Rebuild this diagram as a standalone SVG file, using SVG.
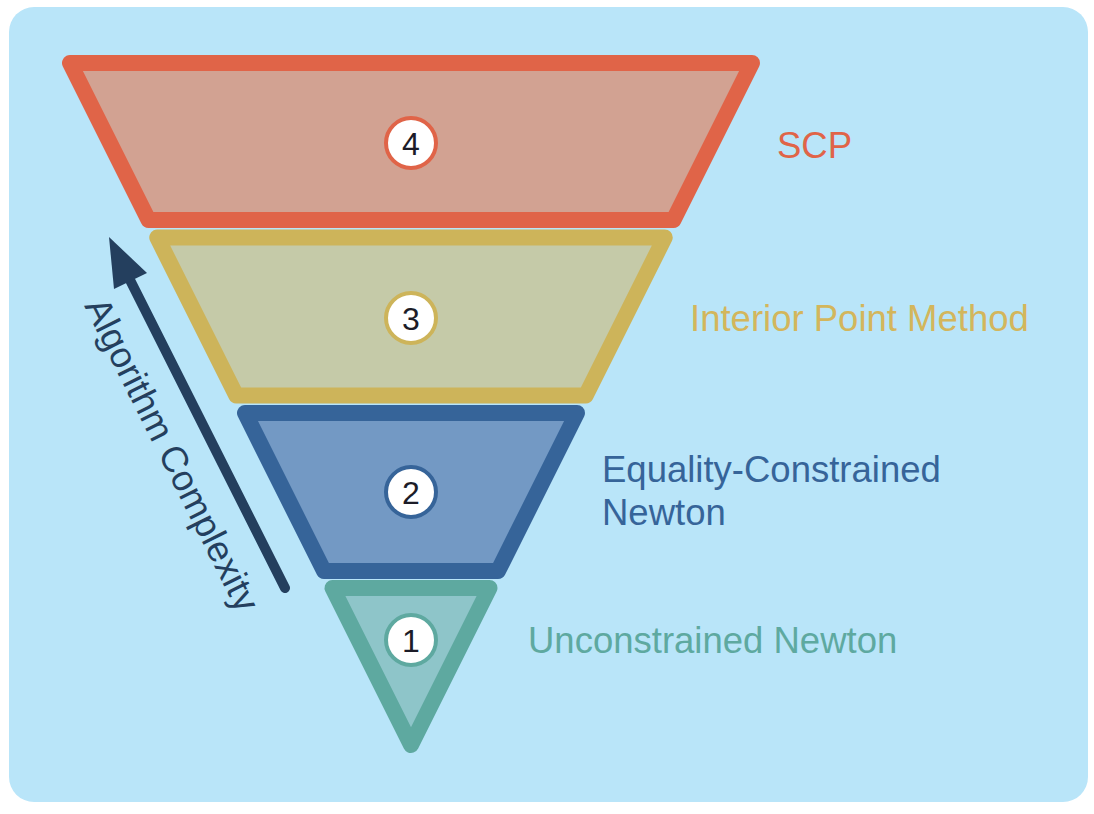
<svg xmlns="http://www.w3.org/2000/svg" width="1094" height="814" viewBox="0 0 1094 814">
<style>
.layer{stroke-width:16;stroke-linejoin:round}
.badge{fill:#ffffff;stroke-width:4}
.num{font-family:"Liberation Sans",Arial,sans-serif;font-size:32px;fill:#1c1c28;text-anchor:middle}
.lbl{font-family:"Liberation Sans",Arial,sans-serif;font-size:36.5px}
</style>
<rect x="9" y="7" width="1079" height="795" rx="25" ry="25" fill="#b9e5f9"/>
<g id="layer4">
<polygon class="layer" points="70,63 752,63 673.5,220 148.5,220" fill="#d2a292" stroke="#e06448"/>
<circle class="badge" cx="411" cy="143" r="25" stroke="#e06448"/>
<text class="num" x="411" y="154.5">4</text>
<text class="lbl" x="777" y="158" fill="#e06448">SCP</text>
</g>
<g id="layer3">
<polygon class="layer" points="157.25,237.5 664.75,237.5 585.75,395.5 236.25,395.5" fill="#c5caa8" stroke="#cdb45a"/>
<circle class="badge" cx="411" cy="318" r="25" stroke="#cdb45a"/>
<text class="num" x="411" y="329.5">3</text>
<text class="lbl" x="690" y="331" fill="#d3b65c">Interior Point Method</text>
</g>
<g id="layer2">
<polygon class="layer" points="245,413 577,413 498,571 324,571" fill="#7399c4" stroke="#366499"/>
<circle class="badge" cx="411" cy="492" r="25" stroke="#366499"/>
<text class="num" x="411" y="503.5">2</text>
<text class="lbl" x="602" y="482" fill="#366499">Equality-Constrained</text>
<text class="lbl" x="602" y="525" fill="#366499">Newton</text>
</g>
<g id="layer1">
<polygon class="layer" points="332.5,588 489.5,588 411,745" fill="#8ec5c9" stroke="#5ea9a0"/>
<circle class="badge" cx="411" cy="640" r="25" stroke="#5ea9a0"/>
<text class="num" x="411" y="651.5">1</text>
<text class="lbl" x="528" y="653" fill="#5ea9a0">Unconstrained Newton</text>
</g>
<g id="connectors">
<line x1="285" y1="588" x2="130" y2="280" stroke="#243f5e" stroke-width="10" stroke-linecap="round"/>
<polygon points="109,237 147,273 114,289" fill="#243f5e"/>
<text class="lbl" x="161" y="460" fill="#243f5e" text-anchor="middle" font-size="34.5" transform="rotate(63.43 161 460)">Algorithm Complexity</text>
</g>
</svg>
